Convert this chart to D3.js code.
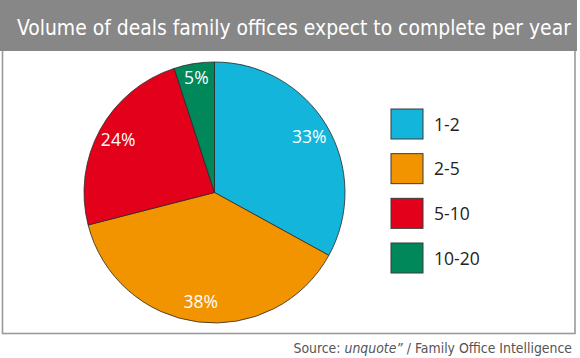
<!DOCTYPE html>
<html><head><meta charset="utf-8">
<script src="https://cdn.jsdelivr.net/npm/d3@7/dist/d3.min.js"></script>
<style>body{margin:0;background:#fff}svg{display:block}</style>
</head><body>
<svg id="c" width="580" height="358"></svg>
<script>
const categories = ["1-2", "2-5", "5-10", "10-20"];
const values = [33, 38, 24, 5];
const colors = ["#14b5da", "#f29400", "#e2001a", "#00875a"];
const title = "Volume of deals family offices expect to complete per year";

const svg = d3.select("#c");
const condensed = "'Liberation Sans Narrow','DejaVu Sans Condensed','Roboto',sans-serif";
// frame
svg.append("rect").attr("x", 2.5).attr("y", 1).attr("width", 572.5).attr("height", 332.5)
  .attr("fill", "#fff").attr("stroke", "#9a9a9a").attr("stroke-width", 1.6);
svg.append("rect").attr("x", 0).attr("y", 0).attr("width", 577).attr("height", 51).attr("fill", "#878787");
const tt = svg.append("text").attr("x", 17).attr("y", 34.5).attr("fill", "#fff")
  .attr("font-family", condensed).attr("font-size", 25).text(title);
const tl = tt.node().getComputedTextLength();
if (tl > 554) tt.attr("font-size", 25 * 554 / tl);

const cx = 214.5, cy = 192.5, R = 130.5;
const pie = d3.pie().sort(null).value(d => d)(values);
const arc = d3.arc().innerRadius(0).outerRadius(R);
const g = svg.append("g").attr("transform", `translate(${cx},${cy})`);
g.selectAll("path").data(pie).join("path")
  .attr("d", arc).attr("fill", (d, i) => colors[i])
  .attr("stroke", "#2a2a2a").attr("stroke-width", 0.8);
g.selectAll("text").data(pie).join("text")
  .attr("transform", d => {
    const a = (d.startAngle + d.endAngle) / 2;
    const r = d.data < 10 ? 116 : 110;
    return `translate(${Math.sin(a) * r},${-Math.cos(a) * r})`;
  })
  .attr("text-anchor", "middle").attr("dy", "0.36em")
  .attr("fill", "#fff").attr("font-family", "'Open Sans','Noto Sans',sans-serif").attr("font-size", 17.5)
  .text(d => d.data + "%");

// legend
const ly = d3.scalePoint().domain(categories).range([109, 243]);
const lg = svg.append("g");
lg.selectAll("rect").data(categories).join("rect")
  .attr("x", 391).attr("y", d => ly(d)).attr("width", 32).attr("height", 30)
  .attr("fill", (d, i) => colors[i]).attr("stroke", "#3a3a3a").attr("stroke-width", 1);
lg.selectAll("text").data(categories).join("text")
  .attr("x", 434).attr("y", d => ly(d) + 21.5)
  .attr("fill", "#222").attr("font-family", "'Open Sans','Noto Sans',sans-serif").attr("font-size", 17.5)
  .text(d => d);

// source
const src = svg.append("text").attr("x", 572).attr("y", 353).attr("text-anchor", "end")
  .attr("fill", "#555").attr("font-family", condensed).attr("font-size", 15);
src.append("tspan").text("Source: ");
src.append("tspan").attr("font-style", "italic").text("unquote\u201d");
src.append("tspan").text(" / Family Office Intelligence");
const sl = src.node().getComputedTextLength();
if (sl > 279) src.attr("font-size", 15 * 279 / sl);
</script>
</body></html>
